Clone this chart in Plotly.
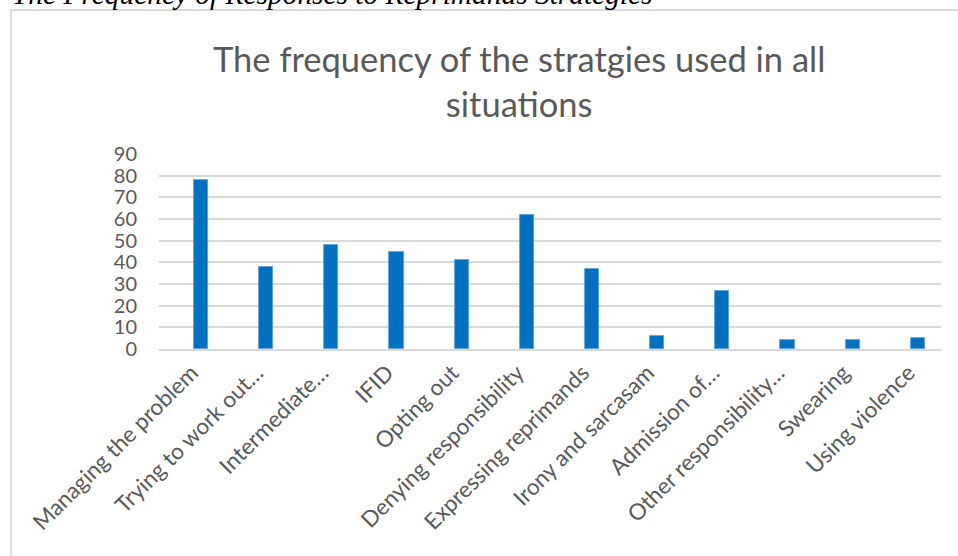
import plotly.graph_objects as go

categories = ["Managing the problem", "Trying to work out…", "Intermediate…", "IFID",
              "Opting out", "Denying responsibility", "Expressing reprimands",
              "Irony and sarcasam", "Admission of…", "Other responsibility…",
              "Swearing", "Using violence"]
values = [78, 38, 48, 45, 41, 62, 37, 6, 27, 4, 4, 5]
y_ticks = [0, 10, 20, 30, 40, 50, 60, 70, 80, 90]

W, H = 958, 556
L, R, T, B = 159, 941, 154, 349

def px_x(p):
    return (p - L) / (R - L)

def px_y(p):
    return (B - p) / (B - T)

fig = go.Figure()
fig.add_trace(go.Bar(
    x=categories, y=values,
    marker=dict(color="#0070c0", line=dict(color="#5b9bd5", width=0.8)),
    width=0.215, offset=0.037,
))

fig.update_layout(
    width=W, height=H,
    margin=dict(l=L, r=W - R, t=T, b=H - B, pad=0),
    paper_bgcolor="white", plot_bgcolor="white",
    showlegend=False,
    font=dict(family="Lato", color="#595959", size=20),
    bargap=0,
)
fig.update_xaxes(
    type="category", tickangle=-45, showgrid=False, ticks="",
    showline=True, linecolor="#d9d9d9", linewidth=1.5,
    tickfont=dict(size=22.5, color="#595959"),
)
fig.update_yaxes(
    range=[0, 90], tickvals=y_ticks, showgrid=True, gridcolor="#d9d9d9", gridwidth=1.5,
    zeroline=False, ticks="", ticklabelstandoff=21,
    tickfont=dict(size=20, color="#595959"),
)

# chart title
fig.add_annotation(
    text="The frequency of the stratgies used in all<br>situations",
    xref="paper", yref="paper", x=px_x(518.5), y=px_y(36),
    xanchor="center", yanchor="top", showarrow=False, align="center",
    font=dict(family="Lato", size=34.5, color="#595959"),
)

# chart frame (extends beyond the page to the right and bottom)
fig.add_shape(type="rect", xref="paper", yref="paper",
              x0=px_x(11), x1=px_x(1100), y0=px_y(10), y1=px_y(700),
              line=dict(color="#d9d9d9", width=1.8), fillcolor="rgba(0,0,0,0)", layer="below")

# document caption, cut off at the top of the page
fig.add_annotation(
    text="<i>The Frequency of Responses to Reprimands Strategies</i>",
    xref="paper", yref="paper", x=px_x(10), y=px_y(12),
    xanchor="left", yanchor="bottom", showarrow=False,
    font=dict(family="Liberation Serif", size=29.4, color="black"),
)

fig.write_html("out.html")
